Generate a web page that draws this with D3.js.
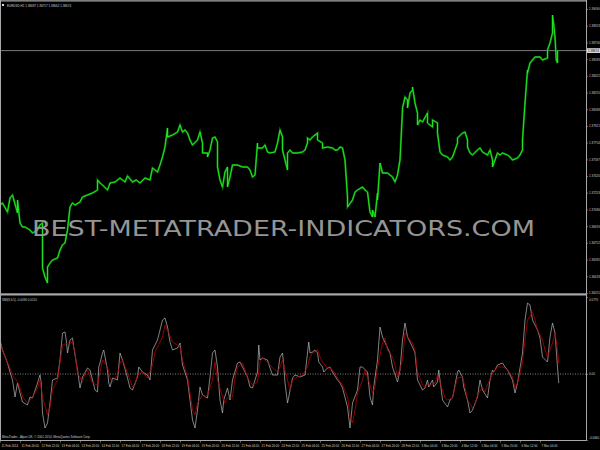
<!DOCTYPE html>
<html><head><meta charset="utf-8">
<script src="https://cdn.jsdelivr.net/npm/d3@7/dist/d3.min.js"></script>
<style>body{margin:0;background:#000;}svg{display:block;}</style>
</head><body>
<script>
// ---------- DATA ----------
const titleText = "EURUSD,H1  1.38687 1.38717 1.38662 1.38674";
const oscTitle = "SMI(9,6,5) -0.0090 0.0110";
const footerText = "MetaTrader - Alpari UK, \u00A9 2001-2014, MetaQuotes Software Corp.";
const watermark = "BEST-METATRADER-INDICATORS.COM";
const bidPrice = 1.38674;

const timeLabels = ["11 Feb 2014","11 Feb 20:00","12 Feb 12:00","13 Feb 04:00","13 Feb 20:00","14 Feb 12:00",
  "17 Feb 04:00","17 Feb 20:00","18 Feb 12:00","19 Feb 04:00","19 Feb 20:00","20 Feb 12:00","21 Feb 04:00",
  "21 Feb 20:00","24 Feb 12:00","25 Feb 04:00","25 Feb 20:00","26 Feb 12:00","27 Feb 04:00","27 Feb 20:00",
  "28 Feb 12:00","3 Mar 04:00","3 Mar 20:00","4 Mar 12:00","5 Mar 04:00","5 Mar 20:00","6 Mar 12:00","7 Mar 04:00"];
const barsPerLabel = 16;

const priceTicks = [1.39090,1.38923,1.38756,1.38589,1.38422,1.38255,1.38088,1.37921,1.37754,1.37587,
  1.37420,1.37253,1.37086,1.36919,1.36752,1.36585,1.36418,1.36251];

const oscTicks = [0.077, 0, -0.066];
const oscTickLabels = ["0.0770","0.00","-0.0660"];

// [bar index (hours), price]
const priceTrace = [[0,1.3713],[2,1.3715],[6,1.3706],[8,1.3720],[10,1.3723],[14,1.3705],[14,1.3718],[16,1.3695],
[18,1.3691],[20,1.3691],[24,1.3688],[26,1.3685],[30,1.3688],[32,1.3693],[34,1.3695],[34,1.3650],[36,1.3641],
[38,1.3635],[38,1.3651],[40,1.3655],[42,1.3658],[46,1.3660],[48,1.3668],[50,1.3673],[52,1.3675],[54,1.3688],
[56,1.3711],[58,1.3715],[60,1.3713],[64,1.3716],[66,1.3721],[70,1.3723],[74,1.3725],[78,1.3728],[78,1.3738],
[80,1.3735],[82,1.3733],[86,1.3728],[88,1.3735],[92,1.3736],[96,1.3740],[100,1.3736],[102,1.3742],[106,1.3736],
[109,1.3738],[112,1.3735],[116,1.3740],[120,1.3738],[122,1.3750],[126,1.3746],[128,1.3753],[130,1.3761],
[132,1.3771],[134,1.3790],[134,1.3781],[138,1.3783],[142,1.3786],[144,1.3793],[146,1.3786],[148,1.3788],
[150,1.3785],[152,1.3778],[154,1.3773],[158,1.3778],[160,1.3786],[162,1.3775],[162,1.3765],[166,1.3765],
[166,1.3761],[168,1.3768],[170,1.3780],[172,1.3781],[174,1.3776],[174,1.3751],[176,1.3738],[178,1.3731],
[180,1.3746],[182,1.3751],[182,1.3731],[184,1.3741],[186,1.3753],[190,1.3753],[194,1.3751],[198,1.3751],
[200,1.3748],[202,1.3741],[204,1.3743],[206,1.3775],[206,1.3770],[210,1.3770],[212,1.3773],[214,1.3766],
[216,1.3765],[220,1.3766],[222,1.3775],[224,1.3788],[226,1.3781],[226,1.3768],[228,1.3758],[230,1.3748],
[230,1.3765],[232,1.3768],[234,1.3765],[238,1.3765],[242,1.3766],[244,1.3768],[246,1.3775],[246,1.3780],
[248,1.3778],[250,1.3781],[254,1.3785],[254,1.3778],[258,1.3775],[258,1.3770],[262,1.3771],[266,1.3770],
[268,1.3768],[270,1.3768],[272,1.3771],[274,1.3770],[276,1.3758],[278,1.3721],[278,1.3711],[282,1.3718],
[284,1.3726],[286,1.3728],[290,1.3731],[292,1.3728],[294,1.3726],[296,1.3706],[298,1.3701],[298,1.3708],
[300,1.3701],[302,1.3725],[302,1.3718],[304,1.3755],[306,1.3745],[310,1.3745],[312,1.3743],[314,1.3741],
[316,1.3736],[318,1.3743],[320,1.3758],[322,1.3808],[322,1.3810],[324,1.3821],[326,1.3818],[326,1.3810],
[328,1.3825],[330,1.3828],[330,1.3831],[332,1.3815],[334,1.3805],[334,1.3793],[336,1.3798],[338,1.3796],
[342,1.3805],[342,1.3795],[346,1.3791],[346,1.3798],[350,1.3795],[350,1.3785],[352,1.3766],[354,1.3763],
[358,1.3761],[360,1.3758],[362,1.3761],[366,1.3775],[366,1.3780],[370,1.3785],[372,1.3786],[374,1.3778],
[374,1.3771],[376,1.3765],[378,1.3763],[382,1.3768],[384,1.3770],[386,1.3766],[390,1.3763],[392,1.3768],
[394,1.3758],[394,1.3751],[396,1.3758],[398,1.3765],[400,1.3763],[402,1.3765],[406,1.3763],[408,1.3761],
[410,1.3758],[414,1.3760],[416,1.3763],[418,1.3768],[418,1.3778],[420,1.3815],[422,1.3848],[422,1.3845],
[424,1.3855],[426,1.3858],[428,1.3861],[432,1.3861],[434,1.3858],[438,1.3860],[438,1.3868],[440,1.3875],
[442,1.3885],[442,1.3903],[443,1.3893],[444,1.3881],[445,1.3858],[446,1.3855],[446,1.3868]];

// [bar index, value]
const oscMain = [[0,0.034],[2,0.024],[6,0.011],[8,0.002],[10,-0.006],[12,-0.023],[14,-0.009],[16,-0.019],
[18,-0.028],[22,-0.031],[24,-0.023],[26,-0.024],[30,-0.009],[32,-0.001],[33,-0.009],[34,-0.039],[36,-0.054],
[38,-0.049],[40,-0.029],[42,-0.006],[46,-0.004],[48,0.014],[50,0.041],[52,0.042],[53,0.034],[54,0.021],
[56,0.034],[58,0.036],[59,0.027],[62,0.004],[64,-0.014],[66,-0.003],[70,0.006],[72,0.004],[74,-0.006],
[76,-0.016],[78,-0.018],[79,0.007],[80,0.011],[82,0.021],[83,0.024],[86,0.004],[87,-0.009],[88,-0.013],
[90,-0.004],[94,-0.006],[96,0.021],[98,0.014],[102,-0.004],[104,-0.014],[106,-0.016],[110,-0.003],[111,0.007],
[114,0.002],[118,-0.001],[120,-0.006],[122,0.024],[126,0.034],[128,0.044],[130,0.054],[132,0.056],[134,0.047],
[136,0.032],[138,0.024],[142,0.026],[144,0.031],[146,0.009],[150,-0.006],[152,-0.026],[154,-0.046],[156,-0.054],
[158,-0.036],[160,-0.013],[162,-0.021],[166,-0.024],[168,-0.003],[170,0.021],[172,0.024],[174,0.007],
[176,-0.026],[178,-0.039],[179,-0.026],[182,-0.014],[184,-0.026],[186,-0.006],[190,0.011],[192,0.012],
[194,0.007],[198,-0.003],[200,-0.013],[202,-0.014],[206,0.002],[207,0.029],[208,0.014],[210,0.016],[214,0.014],
[216,0.006],[218,-0.001],[222,-0.001],[224,0.017],[226,0.021],[227,0.009],[228,-0.009],[230,-0.029],
[231,-0.023],[234,-0.004],[236,-0.001],[240,-0.003],[244,-0.001],[246,0.021],[247,0.032],[248,0.021],
[250,0.022],[252,0.024],[254,0.021],[255,0.012],[258,0.007],[259,0.002],[262,0.006],[264,0.007],[266,0.002],
[270,-0.006],[272,-0.009],[274,-0.014],[278,-0.033],[280,-0.054],[282,-0.029],[286,-0.016],[288,0.007],
[290,0.007],[294,0.002],[296,-0.023],[298,-0.031],[299,-0.013],[302,0.014],[304,0.047],[306,0.037],[310,0.026],
[312,0.021],[314,0.007],[318,-0.008],[320,0.004],[322,0.034],[324,0.051],[326,0.037],[330,0.027],[332,0.021],
[334,-0.006],[338,-0.016],[340,-0.014],[342,-0.006],[343,-0.013],[346,-0.006],[347,-0.013],[350,-0.008],
[351,0.004],[352,-0.006],[354,-0.026],[358,-0.033],[360,-0.026],[362,-0.024],[366,0.002],[367,0.004],
[370,-0.003],[371,-0.013],[374,-0.026],[376,-0.039],[378,-0.036],[382,-0.023],[384,-0.006],[386,-0.016],
[390,-0.024],[392,-0.006],[394,0.004],[395,0.002],[396,0.004],[398,0.009],[402,0.011],[404,0.007],[406,0.004],
[410,-0.006],[412,-0.019],[414,-0.009],[418,0.021],[420,0.054],[422,0.071],[424,0.069],[426,0.054],[430,0.044],
[432,0.036],[434,0.017],[438,0.012],[440,0.037],[442,0.051],[444,0.041],[446,0.007],[447,-0.009]];

const oscSignal = [[0,0.031],[4,0.017],[8,0.006],[10,-0.001],[14,-0.008],[16,-0.014],[18,-0.023],[22,-0.029],
[24,-0.026],[26,-0.023],[30,-0.014],[32,-0.006],[34,-0.023],[38,-0.041],[40,-0.033],[42,-0.016],[46,-0.006],
[48,0.012],[50,0.029],[54,0.031],[56,0.031],[58,0.032],[60,0.021],[62,0.001],[66,-0.008],[68,0.001],[70,0.004],
[74,-0.009],[78,-0.011],[80,0.002],[82,0.014],[86,0.007],[88,-0.004],[90,-0.008],[94,-0.001],[96,0.011],
[98,0.014],[102,0.001],[106,-0.013],[108,-0.011],[110,-0.001],[114,0.002],[118,-0.004],[122,0.009],[124,0.022],
[126,0.027],[130,0.037],[132,0.049],[134,0.044],[138,0.032],[142,0.029],[144,0.027],[146,0.014],[150,-0.003],
[152,-0.019],[154,-0.036],[156,-0.041],[158,-0.029],[162,-0.021],[164,-0.023],[166,-0.021],[170,-0.006],
[172,0.012],[174,-0.006],[178,-0.023],[180,-0.029],[182,-0.024],[186,-0.023],[188,-0.004],[190,0.007],
[194,0.011],[196,0.004],[198,-0.004],[202,-0.011],[206,-0.008],[208,0.012],[210,0.016],[214,0.012],[218,0.006],
[222,0.002],[224,0.007],[226,0.014],[230,-0.006],[232,-0.016],[234,-0.006],[238,-0.003],[240,-0.002],
[242,-0.001],[246,0.007],[248,0.017],[250,0.021],[254,0.024],[256,0.017],[258,0.012],[262,0.006],[264,0.006],
[266,0.004],[270,-0.004],[272,-0.008],[274,-0.011],[278,-0.023],[280,-0.041],[282,-0.049],[284,-0.036],
[286,-0.019],[290,-0.006],[292,0.004],[294,-0.003],[298,-0.019],[300,-0.013],[302,0.007],[306,0.031],
[308,0.036],[310,0.024],[314,0.017],[316,0.009],[318,-0.003],[322,0.014],[324,0.041],[326,0.037],[330,0.031],
[332,0.024],[334,0.002],[338,-0.011],[340,-0.013],[342,-0.011],[346,-0.011],[348,-0.009],[350,-0.001],
[354,-0.016],[356,-0.024],[358,-0.026],[362,-0.024],[364,-0.013],[366,-0.004],[370,-0.003],[372,-0.013],
[374,-0.026],[378,-0.034],[380,-0.031],[382,-0.021],[386,-0.013],[388,-0.018],[390,-0.011],[394,0.001],
[396,0.004],[398,0.007],[402,0.007],[404,0.006],[406,0.004],[410,-0.003],[412,-0.014],[414,-0.009],[418,0.011],
[420,0.034],[422,0.054],[426,0.062],[428,0.054],[430,0.044],[434,0.034],[436,0.024],[438,0.017],[442,0.031],
[444,0.041],[446,0.024],[447,0.011]];

// ---------- CHART ----------
const W = 600, H = 450;
const axisX = 586;
const svg = d3.select("body").append("svg").attr("width", W).attr("height", H);
svg.append("rect").attr("width", W).attr("height", H).attr("fill", "#000");

const x = d3.scaleLinear().domain([0, 468]).range([0, 585]);
const yP = d3.scaleLinear().domain([1.3625, 1.3918]).range([293, 0]);
const yO = d3.scaleLinear().domain([-0.066, 0.077]).range([440, 297]);

const fontFam = "'Liberation Sans', Arial, sans-serif";
const txtCol = "#cfcfcf";
const frameCol = "#a8a8a8";

const defs = svg.append("defs");
defs.append("clipPath").attr("id", "cp").append("rect").attr("x", 1).attr("y", 1.5).attr("width", axisX - 1).attr("height", 291.5);
defs.append("clipPath").attr("id", "co").append("rect").attr("x", 1).attr("y", 296).attr("width", axisX - 1).attr("height", 144);

// bid line
svg.append("line").attr("x1", 0).attr("x2", axisX).attr("y1", yP(bidPrice)).attr("y2", yP(bidPrice))
  .attr("stroke", "#9a9a9a").attr("stroke-width", 0.8);

// price trace
const lineP = d3.line().x(d => x(d[0])).y(d => yP(d[1]));
const gP = svg.append("g").attr("clip-path", "url(#cp)");
gP.append("path").datum(priceTrace).attr("d", lineP).attr("fill", "none")
  .attr("stroke", "#0a7d0a").attr("stroke-width", 2.0).attr("stroke-linejoin", "miter");
gP.append("path").datum(priceTrace).attr("d", lineP).attr("fill", "none")
  .attr("stroke", "#22ee22").attr("stroke-width", 0.9).attr("stroke-linejoin", "miter");

// title
svg.append("rect").attr("x", 2).attr("y", 4).attr("width", 2).attr("height", 2).attr("fill", "#ddd");
svg.append("text").attr("x", 7).attr("y", 6.5).text(titleText)
  .attr("font-family", fontFam).attr("font-size", 3).attr("fill", txtCol);

// watermark
svg.append("text").attr("x", 32).attr("y", 236).text(watermark)
  .attr("font-family", "'DejaVu Sans', sans-serif").attr("font-weight", 400).attr("font-size", 21)
  .attr("textLength", 503).attr("lengthAdjust", "spacingAndGlyphs")
  .attr("fill", "#959595");

// oscillator
const lineO = d3.line().x(d => x(d[0])).y(d => yO(d[1]));
const gO = svg.append("g").attr("clip-path", "url(#co)");
gO.append("line").attr("x1", 0).attr("x2", axisX).attr("y1", yO(0)).attr("y2", yO(0))
  .attr("stroke", "#bdbdbd").attr("stroke-width", 0.7).attr("stroke-dasharray", "1,1.5");
gO.append("path").datum(oscMain).attr("d", lineO).attr("fill", "none")
  .attr("stroke", "#b8b8b8").attr("stroke-width", 0.7).attr("stroke-linejoin", "round");
gO.append("path").datum(oscSignal).attr("d", lineO).attr("fill", "none")
  .attr("stroke", "#b80000").attr("stroke-width", 0.8).attr("stroke-linejoin", "round");

svg.append("text").attr("x", 2).attr("y", 300.5).text(oscTitle)
  .attr("font-family", fontFam).attr("font-size", 3).attr("fill", txtCol);
svg.append("text").attr("x", 2).attr("y", 438).text(footerText)
  .attr("font-family", fontFam).attr("font-size", 3).attr("fill", txtCol);

// frame
svg.append("line").attr("x1", 0).attr("x2", axisX).attr("y1", 0.8).attr("y2", 0.8).attr("stroke", frameCol).attr("stroke-width", 1.2);
svg.append("line").attr("x1", 0.5).attr("x2", 0.5).attr("y1", 0).attr("y2", 440).attr("stroke", frameCol).attr("stroke-width", 1);
svg.append("rect").attr("x", 0).attr("y", 293.3).attr("width", axisX).attr("height", 2.2).attr("fill", frameCol);

// price axis
const axP = d3.axisRight(yP).tickValues(priceTicks).tickFormat(d3.format(".5f")).tickSize(2).tickPadding(1);
const gAP = svg.append("g").attr("transform", `translate(${axisX},0)`).call(axP);
gAP.select(".domain").remove();
gAP.selectAll("line").attr("stroke", frameCol).attr("stroke-width", 0.6);
gAP.selectAll("text").attr("font-family", fontFam).attr("font-size", 3).attr("fill", txtCol);
svg.append("line").attr("x1", axisX + 0.5).attr("x2", axisX + 0.5).attr("y1", 0).attr("y2", 440.5)
  .attr("stroke", frameCol).attr("stroke-width", 1);

// bid box
const by = yP(bidPrice);
svg.append("rect").attr("x", axisX + 1).attr("y", by - 2.4).attr("width", 13).attr("height", 4.8).attr("fill", "#d8d8d8");
svg.append("text").attr("x", axisX + 2).attr("y", by + 1.1).text(bidPrice.toFixed(5))
  .attr("font-family", fontFam).attr("font-size", 3).attr("fill", "#000");

// oscillator axis
const axO = d3.axisRight(yO).tickValues(oscTicks).tickFormat((d, i) => oscTickLabels[i]).tickSize(2).tickPadding(1);
const gAO = svg.append("g").attr("transform", `translate(${axisX},0)`).call(axO);
gAO.select(".domain").remove();
gAO.selectAll("line").attr("stroke", frameCol).attr("stroke-width", 0.6);
gAO.selectAll("text").attr("font-family", fontFam).attr("font-size", 3).attr("fill", txtCol);
gAO.selectAll(".tick").filter(d => d === oscTicks[0]).select("text").attr("dy", "1.2em");
gAO.selectAll(".tick").filter(d => d === oscTicks[2]).select("text").attr("dy", "-0.4em");

// time axis
const axT = d3.axisBottom(x).tickValues(timeLabels.map((_, i) => i * barsPerLabel))
  .tickFormat((d, i) => timeLabels[i]).tickSize(2).tickPadding(2);
const gAT = svg.append("g").attr("transform", "translate(0,440.5)").call(axT);
gAT.select(".domain").attr("stroke", frameCol).attr("stroke-width", 1).attr("d", `M0,0H${axisX}`);
gAT.selectAll("line").attr("stroke", frameCol).attr("stroke-width", 0.6);
gAT.selectAll("text").attr("font-family", fontFam).attr("font-size", 3).attr("fill", txtCol)
  .attr("text-anchor", "start").attr("dx", 1);
</script>
</body></html>
